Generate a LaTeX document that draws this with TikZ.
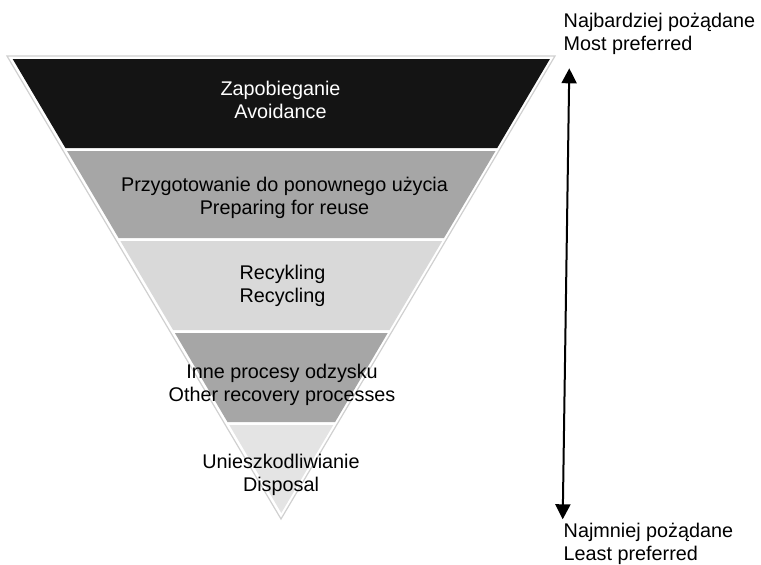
\documentclass[tikz,border=0pt]{standalone}
\usepackage{fontspec}
\setmainfont{Liberation Sans}
\usetikzlibrary{arrows.meta}
\definecolor{bandA}{HTML}{141414}
\definecolor{bandB}{HTML}{A6A6A6}
\definecolor{bandC}{HTML}{D9D9D9}
\definecolor{bandD}{HTML}{A6A6A6}
\definecolor{bandE}{HTML}{E4E4E4}
\definecolor{rim}{HTML}{D0D0D0}
\begin{document}
\begin{tikzpicture}[x=1pt,y=-1pt,
  every node/.style={font=\fontsize{19.8}{23}\selectfont},
  bandtext/.style={align=center,inner sep=0pt,text=black},
  sidetext/.style={align=left,inner sep=0pt,anchor=north west,text=black},
  bandfill/.style={fill=#1,draw=none},
  twoarrow/.style={line width=2pt,{Triangle[width=15pt,length=15pt]}-{Triangle[width=15pt,length=15pt]}}]
\useasboundingbox (0,0) rectangle (761,565);
% outer outline
\draw[rim,line width=1.2pt,line join=miter] (7,56) -- (555,56) -- (281,519) -- cycle;
% bands
\path[bandfill=bandA] (12.7,59) -- (549.9,59) -- (497.2,148) -- (65.4,148) -- cycle;
\path[bandfill=bandB] (67.1,151) -- (495.5,151) -- (444.0,238) -- (118.6,238) -- cycle;
\path[bandfill=bandC] (120.4,241) -- (442.2,241) -- (389.5,330) -- (173.1,330) -- cycle;
\path[bandfill=bandD] (174.9,333) -- (387.7,333) -- (335.1,422) -- (227.5,422) -- cycle;
\path[bandfill=bandE] (229.3,425) -- (333.3,425) -- (281.3,513) -- cycle;
% band labels
\node[bandtext,text=white] (t1) at (280.5,100.4) {Zapobieganie\\Avoidance};
\node[bandtext] (t2) at (284.5,197.6) {Przygotowanie do ponownego użycia\\Preparing for reuse};
\node[bandtext] (t3) at (282.5,285.5) {Recykling\\Recycling};
\node[bandtext] (t4) at (282,385) {Inne procesy odzysku\\Other recovery processes};
\node[bandtext] (t5) at (281,475) {Unieszkodliwianie\\Disposal};
% side labels
\node[sidetext] (most) at (563.5,12.8) {Najbardziej pożądane\\Most preferred};
\node[sidetext] (least) at (563.5,523) {Najmniej pożądane\\Least preferred};
% arrow
\coordinate (atop) at (569.3,68.3);
\coordinate (abot) at (562.7,519.3);
\draw[twoarrow] (abot) -- (atop);
\end{tikzpicture}
\end{document}
